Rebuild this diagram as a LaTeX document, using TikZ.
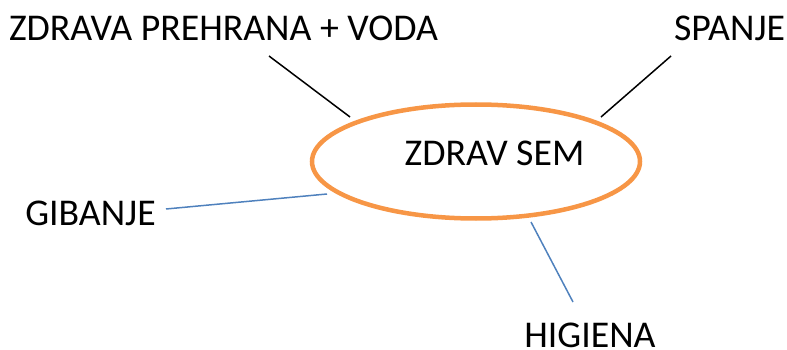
\documentclass[tikz,border=0pt]{standalone}
\usepackage{fontspec}
\setmainfont{Carlito}
\usetikzlibrary{shapes.geometric}
\definecolor{ellorange}{HTML}{F79646}
\definecolor{linkblue}{HTML}{4F81BD}
\begin{document}
\begin{tikzpicture}[x=1pt,y=-1pt,
  lbl/.style={anchor=base,inner sep=0pt,font=\fontsize{37.8}{42}\selectfont},
  blackline/.style={draw=black,line width=1.5pt},
  blueline/.style={draw=linkblue,line width=1.5pt}]
\useasboundingbox (0,0) rectangle (787,350);
\node[ellipse,draw=ellorange,line width=4.5pt,minimum width=328pt,minimum height=114pt,inner sep=0pt] (ell) at (476,161.5) {};
\node[lbl] (zdrav) at (494.5,165) {ZDRAV SEM};
\node[lbl] (prehrana) at (223.5,41) {ZDRAVA PREHRANA + VODA};
\node[lbl] (spanje) at (729.5,41) {SPANJE};
\node[lbl] (gibanje) at (90.5,225) {GIBANJE};
\node[lbl] (higiena) at (590,347) {HIGIENA};
\coordinate (p1) at (269,56);
\coordinate (p2) at (350,117);
\coordinate (s1) at (671,56);
\coordinate (s2) at (601,117);
\coordinate (g1) at (166,209);
\coordinate (g2) at (327,194);
\coordinate (h1) at (531,222);
\coordinate (h2) at (573,302);
\draw[blackline] (p1) -- (p2);
\draw[blackline] (s1) -- (s2);
\draw[blueline] (g1) -- (g2);
\draw[blueline] (h1) -- (h2);
\end{tikzpicture}
\end{document}
